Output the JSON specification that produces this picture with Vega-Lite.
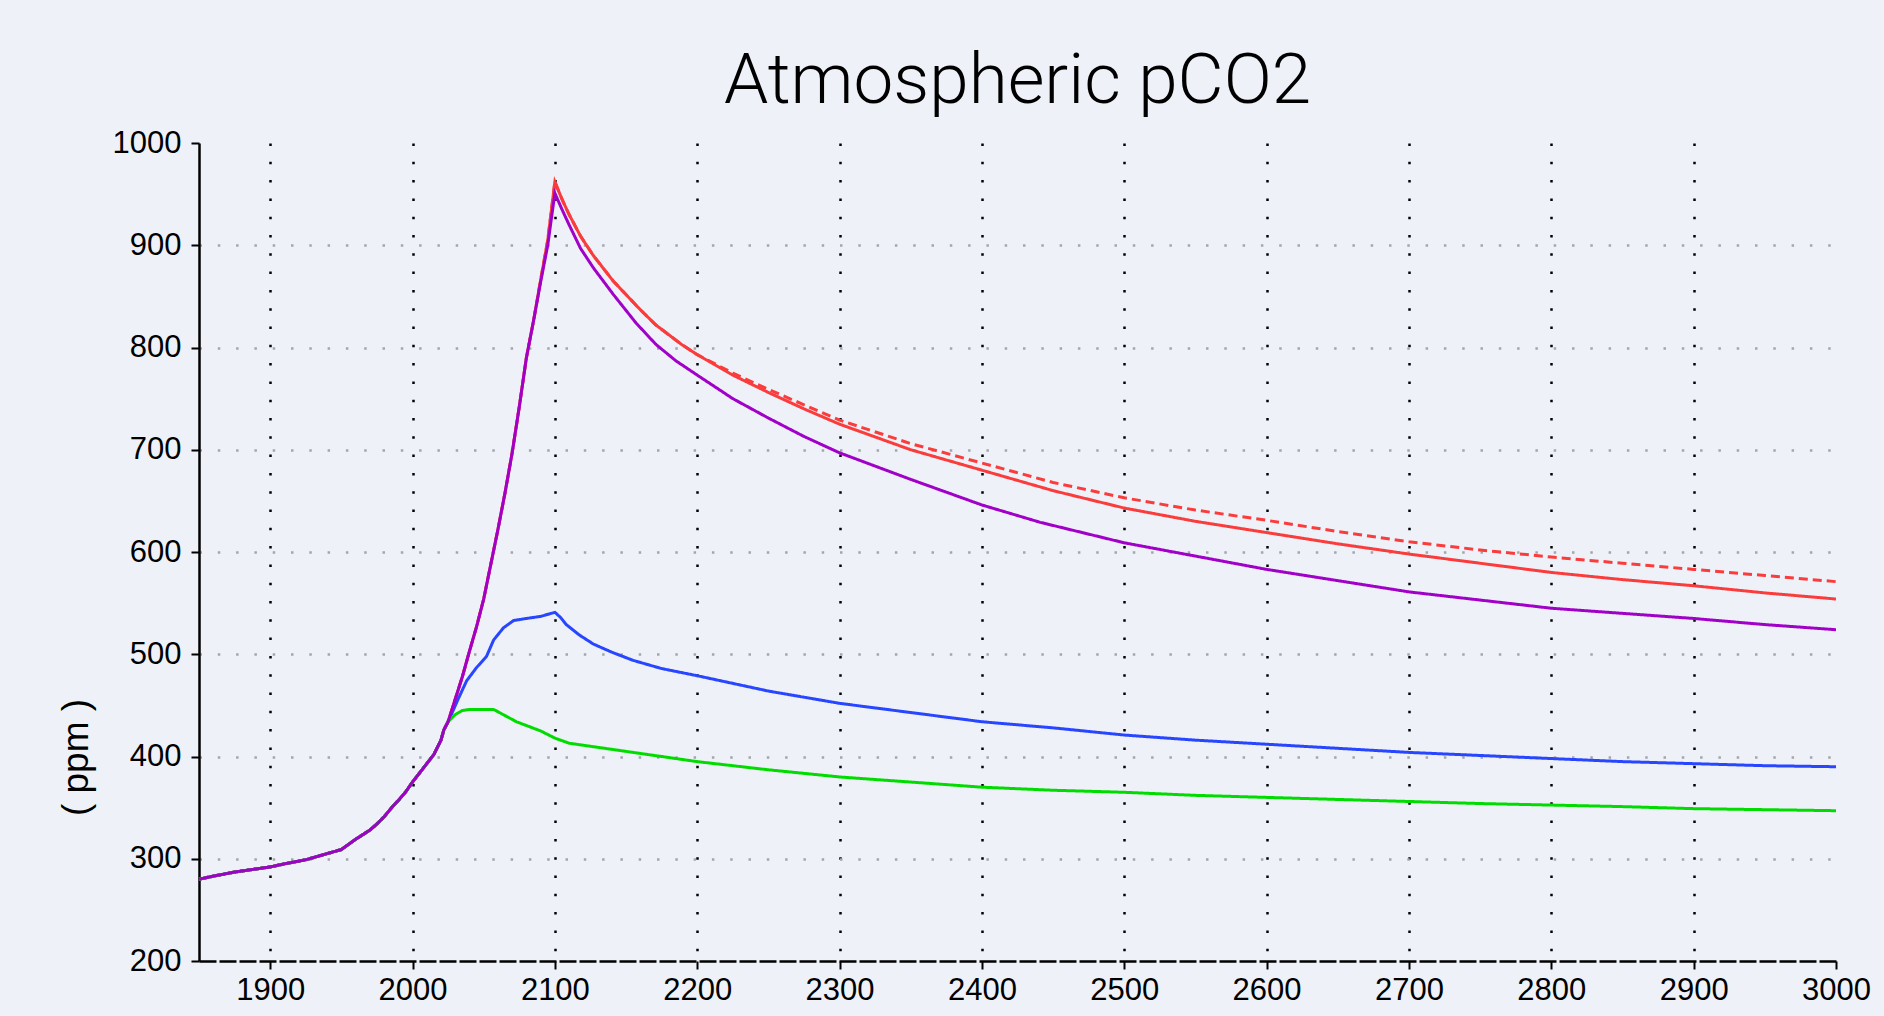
{
  "$schema": "https://vega.github.io/schema/vega-lite/v6.json",
  "autosize": {"type": "none"},
  "padding": {"left": 199, "top": 143, "right": 48, "bottom": 55},
  "width": 1637,
  "height": 818,
  "background": "#eef2f8",
  "title": {
    "text": "Atmospheric pCO2",
    "font": "Roboto",
    "fontWeight": 300,
    "fontSize": 71,
    "color": "black",
    "anchor": "middle",
    "baseline": "alphabetic",
    "offset": 35,
    "dy": 82
  },
  "config": {
    "view": {"stroke": null},
    "axis": {
      "labelFont": "Liberation Sans",
      "labelFontSize": 31,
      "labelColor": "black",
      "domainColor": "black",
      "domainWidth": 2.5,
      "tickColor": "black",
      "tickSize": 8,
      "tickWidth": 2
    }
  },
  "data": {
    "values": [
      {"series": "S2", "year": 1850, "value": 280}, {"series": "S2", "year": 1860, "value": 283}, {"series": "S2", "year": 1875, "value": 287}, {"series": "S2", "year": 1890, "value": 290}, {"series": "S2", "year": 1900, "value": 292}, {"series": "S2", "year": 1910, "value": 295}, {"series": "S2", "year": 1925, "value": 299}, {"series": "S2", "year": 1940, "value": 305}, {"series": "S2", "year": 1950, "value": 309}, {"series": "S2", "year": 1960, "value": 319}, {"series": "S2", "year": 1970, "value": 328}, {"series": "S2", "year": 1975, "value": 334}, {"series": "S2", "year": 1980, "value": 341}, {"series": "S2", "year": 1986, "value": 351}, {"series": "S2", "year": 1990, "value": 357}, {"series": "S2", "year": 1995, "value": 365}, {"series": "S2", "year": 2000, "value": 375}, {"series": "S2", "year": 2005, "value": 384}, {"series": "S2", "year": 2010, "value": 393}, {"series": "S2", "year": 2015, "value": 402}, {"series": "S2", "year": 2020, "value": 416},
      {"series": "S2", "year": 2022, "value": 426}, {"series": "S2", "year": 2025, "value": 434}, {"series": "S2", "year": 2030, "value": 456}, {"series": "S2", "year": 2035, "value": 478}, {"series": "S2", "year": 2040, "value": 503}, {"series": "S2", "year": 2045, "value": 527}, {"series": "S2", "year": 2050, "value": 554}, {"series": "S2", "year": 2055, "value": 588}, {"series": "S2", "year": 2060, "value": 622}, {"series": "S2", "year": 2065, "value": 658}, {"series": "S2", "year": 2070, "value": 697}, {"series": "S2", "year": 2075, "value": 742}, {"series": "S2", "year": 2080, "value": 790}, {"series": "S2", "year": 2085, "value": 826}, {"series": "S2", "year": 2090, "value": 866}, {"series": "S2", "year": 2095, "value": 905}, {"series": "S2", "year": 2100, "value": 962}, {"series": "S2", "year": 2105, "value": 945}, {"series": "S2", "year": 2110, "value": 930}, {"series": "S2", "year": 2118, "value": 909}, {"series": "S2", "year": 2127, "value": 890}, {"series": "S2", "year": 2141, "value": 865}, {"series": "S2", "year": 2160, "value": 837}, {"series": "S2", "year": 2171, "value": 822}, {"series": "S2", "year": 2189, "value": 803}, {"series": "S2", "year": 2200, "value": 793}, {"series": "S2", "year": 2225, "value": 775}, {"series": "S2", "year": 2250, "value": 759}, {"series": "S2", "year": 2275, "value": 744}, {"series": "S2", "year": 2300, "value": 729}, {"series": "S2", "year": 2350, "value": 706}, {"series": "S2", "year": 2400, "value": 687}, {"series": "S2", "year": 2450, "value": 668}, {"series": "S2", "year": 2500, "value": 653}, {"series": "S2", "year": 2550, "value": 641}, {"series": "S2", "year": 2600, "value": 631}, {"series": "S2", "year": 2650, "value": 620}, {"series": "S2", "year": 2700, "value": 610}, {"series": "S2", "year": 2750, "value": 602}, {"series": "S2", "year": 2800, "value": 595}, {"series": "S2", "year": 2850, "value": 589}, {"series": "S2", "year": 2900, "value": 583}, {"series": "S2", "year": 2950, "value": 577}, {"series": "S2", "year": 3000, "value": 571},

      {"series": "S1", "year": 1850, "value": 280}, {"series": "S1", "year": 1860, "value": 283}, {"series": "S1", "year": 1875, "value": 287}, {"series": "S1", "year": 1890, "value": 290}, {"series": "S1", "year": 1900, "value": 292}, {"series": "S1", "year": 1910, "value": 295}, {"series": "S1", "year": 1925, "value": 299}, {"series": "S1", "year": 1940, "value": 305}, {"series": "S1", "year": 1950, "value": 309}, {"series": "S1", "year": 1960, "value": 319}, {"series": "S1", "year": 1970, "value": 328}, {"series": "S1", "year": 1975, "value": 334}, {"series": "S1", "year": 1980, "value": 341}, {"series": "S1", "year": 1986, "value": 351}, {"series": "S1", "year": 1990, "value": 357}, {"series": "S1", "year": 1995, "value": 365}, {"series": "S1", "year": 2000, "value": 375}, {"series": "S1", "year": 2005, "value": 384}, {"series": "S1", "year": 2010, "value": 393}, {"series": "S1", "year": 2015, "value": 402}, {"series": "S1", "year": 2020, "value": 416},
      {"series": "S1", "year": 2022, "value": 426}, {"series": "S1", "year": 2025, "value": 434}, {"series": "S1", "year": 2030, "value": 456}, {"series": "S1", "year": 2035, "value": 478}, {"series": "S1", "year": 2040, "value": 503}, {"series": "S1", "year": 2045, "value": 527}, {"series": "S1", "year": 2050, "value": 554}, {"series": "S1", "year": 2055, "value": 588}, {"series": "S1", "year": 2060, "value": 622}, {"series": "S1", "year": 2065, "value": 658}, {"series": "S1", "year": 2070, "value": 697}, {"series": "S1", "year": 2075, "value": 742}, {"series": "S1", "year": 2080, "value": 790}, {"series": "S1", "year": 2085, "value": 826}, {"series": "S1", "year": 2090, "value": 866}, {"series": "S1", "year": 2095, "value": 905}, {"series": "S1", "year": 2100, "value": 962}, {"series": "S1", "year": 2105, "value": 945}, {"series": "S1", "year": 2110, "value": 930}, {"series": "S1", "year": 2118, "value": 909}, {"series": "S1", "year": 2127, "value": 890}, {"series": "S1", "year": 2141, "value": 865}, {"series": "S1", "year": 2160, "value": 837}, {"series": "S1", "year": 2171, "value": 822}, {"series": "S1", "year": 2189, "value": 803}, {"series": "S1", "year": 2200, "value": 793}, {"series": "S1", "year": 2225, "value": 773}, {"series": "S1", "year": 2250, "value": 756}, {"series": "S1", "year": 2275, "value": 740}, {"series": "S1", "year": 2300, "value": 725}, {"series": "S1", "year": 2350, "value": 700}, {"series": "S1", "year": 2400, "value": 680}, {"series": "S1", "year": 2450, "value": 660}, {"series": "S1", "year": 2500, "value": 643}, {"series": "S1", "year": 2550, "value": 630}, {"series": "S1", "year": 2600, "value": 619}, {"series": "S1", "year": 2650, "value": 608}, {"series": "S1", "year": 2700, "value": 598}, {"series": "S1", "year": 2750, "value": 589}, {"series": "S1", "year": 2800, "value": 580}, {"series": "S1", "year": 2850, "value": 573}, {"series": "S1", "year": 2900, "value": 567}, {"series": "S1", "year": 2950, "value": 560}, {"series": "S1", "year": 3000, "value": 554},

      {"series": "S4", "year": 1850, "value": 280}, {"series": "S4", "year": 1860, "value": 283}, {"series": "S4", "year": 1875, "value": 287}, {"series": "S4", "year": 1890, "value": 290}, {"series": "S4", "year": 1900, "value": 292}, {"series": "S4", "year": 1910, "value": 295}, {"series": "S4", "year": 1925, "value": 299}, {"series": "S4", "year": 1940, "value": 305}, {"series": "S4", "year": 1950, "value": 309}, {"series": "S4", "year": 1960, "value": 319}, {"series": "S4", "year": 1970, "value": 328}, {"series": "S4", "year": 1975, "value": 334}, {"series": "S4", "year": 1980, "value": 341}, {"series": "S4", "year": 1986, "value": 351}, {"series": "S4", "year": 1990, "value": 357}, {"series": "S4", "year": 1995, "value": 365}, {"series": "S4", "year": 2000, "value": 375}, {"series": "S4", "year": 2005, "value": 384}, {"series": "S4", "year": 2010, "value": 393}, {"series": "S4", "year": 2015, "value": 402}, {"series": "S4", "year": 2020, "value": 416},
      {"series": "S4", "year": 2022, "value": 426}, {"series": "S4", "year": 2026, "value": 437}, {"series": "S4", "year": 2032, "value": 456}, {"series": "S4", "year": 2038, "value": 474}, {"series": "S4", "year": 2045, "value": 487}, {"series": "S4", "year": 2052, "value": 498}, {"series": "S4", "year": 2057, "value": 514}, {"series": "S4", "year": 2064, "value": 526}, {"series": "S4", "year": 2071, "value": 533}, {"series": "S4", "year": 2080, "value": 535}, {"series": "S4", "year": 2090, "value": 537}, {"series": "S4", "year": 2100, "value": 541}, {"series": "S4", "year": 2104, "value": 536}, {"series": "S4", "year": 2108, "value": 529}, {"series": "S4", "year": 2117, "value": 519}, {"series": "S4", "year": 2127, "value": 510}, {"series": "S4", "year": 2140, "value": 502}, {"series": "S4", "year": 2155, "value": 494}, {"series": "S4", "year": 2175, "value": 486}, {"series": "S4", "year": 2200, "value": 479}, {"series": "S4", "year": 2250, "value": 464}, {"series": "S4", "year": 2300, "value": 452}, {"series": "S4", "year": 2350, "value": 443}, {"series": "S4", "year": 2400, "value": 434}, {"series": "S4", "year": 2450, "value": 428}, {"series": "S4", "year": 2500, "value": 421}, {"series": "S4", "year": 2550, "value": 416}, {"series": "S4", "year": 2600, "value": 412}, {"series": "S4", "year": 2650, "value": 408}, {"series": "S4", "year": 2700, "value": 404}, {"series": "S4", "year": 2750, "value": 401}, {"series": "S4", "year": 2800, "value": 398}, {"series": "S4", "year": 2850, "value": 395}, {"series": "S4", "year": 2900, "value": 393}, {"series": "S4", "year": 2950, "value": 391}, {"series": "S4", "year": 3000, "value": 390},

      {"series": "S5", "year": 1850, "value": 280}, {"series": "S5", "year": 1860, "value": 283}, {"series": "S5", "year": 1875, "value": 287}, {"series": "S5", "year": 1890, "value": 290}, {"series": "S5", "year": 1900, "value": 292}, {"series": "S5", "year": 1910, "value": 295}, {"series": "S5", "year": 1925, "value": 299}, {"series": "S5", "year": 1940, "value": 305}, {"series": "S5", "year": 1950, "value": 309}, {"series": "S5", "year": 1960, "value": 319}, {"series": "S5", "year": 1970, "value": 328}, {"series": "S5", "year": 1975, "value": 334}, {"series": "S5", "year": 1980, "value": 341}, {"series": "S5", "year": 1986, "value": 351}, {"series": "S5", "year": 1990, "value": 357}, {"series": "S5", "year": 1995, "value": 365}, {"series": "S5", "year": 2000, "value": 375}, {"series": "S5", "year": 2005, "value": 384}, {"series": "S5", "year": 2010, "value": 393}, {"series": "S5", "year": 2015, "value": 402}, {"series": "S5", "year": 2020, "value": 416},
      {"series": "S5", "year": 2022, "value": 426}, {"series": "S5", "year": 2025, "value": 434}, {"series": "S5", "year": 2030, "value": 441}, {"series": "S5", "year": 2035, "value": 445}, {"series": "S5", "year": 2040, "value": 446}, {"series": "S5", "year": 2057, "value": 446}, {"series": "S5", "year": 2065, "value": 440}, {"series": "S5", "year": 2073, "value": 434}, {"series": "S5", "year": 2090, "value": 425}, {"series": "S5", "year": 2100, "value": 418}, {"series": "S5", "year": 2110, "value": 413}, {"series": "S5", "year": 2125, "value": 410}, {"series": "S5", "year": 2150, "value": 405}, {"series": "S5", "year": 2175, "value": 400}, {"series": "S5", "year": 2200, "value": 395}, {"series": "S5", "year": 2250, "value": 387}, {"series": "S5", "year": 2300, "value": 380}, {"series": "S5", "year": 2350, "value": 375}, {"series": "S5", "year": 2400, "value": 370}, {"series": "S5", "year": 2450, "value": 367}, {"series": "S5", "year": 2500, "value": 365}, {"series": "S5", "year": 2550, "value": 362}, {"series": "S5", "year": 2600, "value": 360}, {"series": "S5", "year": 2650, "value": 358}, {"series": "S5", "year": 2700, "value": 356}, {"series": "S5", "year": 2750, "value": 354}, {"series": "S5", "year": 2800, "value": 352.5}, {"series": "S5", "year": 2850, "value": 351}, {"series": "S5", "year": 2900, "value": 349}, {"series": "S5", "year": 2950, "value": 348}, {"series": "S5", "year": 3000, "value": 347},

      {"series": "S3", "year": 1850, "value": 280}, {"series": "S3", "year": 1860, "value": 283}, {"series": "S3", "year": 1875, "value": 287}, {"series": "S3", "year": 1890, "value": 290}, {"series": "S3", "year": 1900, "value": 292}, {"series": "S3", "year": 1910, "value": 295}, {"series": "S3", "year": 1925, "value": 299}, {"series": "S3", "year": 1940, "value": 305}, {"series": "S3", "year": 1950, "value": 309}, {"series": "S3", "year": 1960, "value": 319}, {"series": "S3", "year": 1970, "value": 328}, {"series": "S3", "year": 1975, "value": 334}, {"series": "S3", "year": 1980, "value": 341}, {"series": "S3", "year": 1986, "value": 351}, {"series": "S3", "year": 1990, "value": 357}, {"series": "S3", "year": 1995, "value": 365}, {"series": "S3", "year": 2000, "value": 375}, {"series": "S3", "year": 2005, "value": 384}, {"series": "S3", "year": 2010, "value": 393}, {"series": "S3", "year": 2015, "value": 402}, {"series": "S3", "year": 2020, "value": 416},
      {"series": "S3", "year": 2022, "value": 426}, {"series": "S3", "year": 2025, "value": 434}, {"series": "S3", "year": 2030, "value": 456}, {"series": "S3", "year": 2035, "value": 478}, {"series": "S3", "year": 2040, "value": 503}, {"series": "S3", "year": 2045, "value": 527}, {"series": "S3", "year": 2050, "value": 554}, {"series": "S3", "year": 2055, "value": 588}, {"series": "S3", "year": 2060, "value": 622}, {"series": "S3", "year": 2065, "value": 658}, {"series": "S3", "year": 2070, "value": 697}, {"series": "S3", "year": 2075, "value": 742}, {"series": "S3", "year": 2080, "value": 790}, {"series": "S3", "year": 2085, "value": 826}, {"series": "S3", "year": 2090, "value": 864}, {"series": "S3", "year": 2095, "value": 900}, {"series": "S3", "year": 2100, "value": 951}, {"series": "S3", "year": 2105, "value": 935}, {"series": "S3", "year": 2110, "value": 920}, {"series": "S3", "year": 2118, "value": 897}, {"series": "S3", "year": 2127, "value": 878}, {"series": "S3", "year": 2141, "value": 852}, {"series": "S3", "year": 2157, "value": 824}, {"series": "S3", "year": 2171, "value": 803}, {"series": "S3", "year": 2185, "value": 787}, {"series": "S3", "year": 2200, "value": 773}, {"series": "S3", "year": 2225, "value": 750}, {"series": "S3", "year": 2250, "value": 731}, {"series": "S3", "year": 2275, "value": 713}, {"series": "S3", "year": 2300, "value": 697}, {"series": "S3", "year": 2350, "value": 671}, {"series": "S3", "year": 2400, "value": 646}, {"series": "S3", "year": 2441, "value": 629}, {"series": "S3", "year": 2500, "value": 609}, {"series": "S3", "year": 2550, "value": 596}, {"series": "S3", "year": 2600, "value": 583}, {"series": "S3", "year": 2650, "value": 572}, {"series": "S3", "year": 2700, "value": 561}, {"series": "S3", "year": 2750, "value": 553}, {"series": "S3", "year": 2800, "value": 545}, {"series": "S3", "year": 2850, "value": 540}, {"series": "S3", "year": 2900, "value": 535}, {"series": "S3", "year": 2950, "value": 529}, {"series": "S3", "year": 3000, "value": 524}
    ]
  },
  "mark": {"type": "line", "strokeWidth": 3, "clip": true},
  "encoding": {
    "x": {
      "field": "year",
      "type": "quantitative",
      "scale": {"domain": [1850, 3000], "nice": false, "zero": false},
      "axis": {
        "title": null,
        "values": [1900, 2000, 2100, 2200, 2300, 2400, 2500, 2600, 2700, 2800, 2900, 3000],
        "format": "d",
        "labelPadding": 6,
        "labelFlush": false,
        "labelOverlap": false,
        "domainDash": [17, 3],
        "grid": true,
        "gridColor": "black",
        "gridWidth": 2.5,
        "gridDash": [2.5, 15.8],
        "gridOpacity": {"condition": {"test": "datum.value == 3000", "value": 0}, "value": 1}
      }
    },
    "y": {
      "field": "value",
      "type": "quantitative",
      "scale": {"domain": [200, 1000], "nice": false, "zero": false},
      "axis": {
        "title": "( ppm )",
        "titleFont": "Liberation Sans",
        "titleFontSize": 37,
        "titleFontWeight": "normal",
        "titleColor": "black",
        "titleAngle": 270,
        "titleAlign": "center",
        "titleBaseline": "alphabetic",
        "titleX": -112,
        "titleY": 614,
        "values": [200, 300, 400, 500, 600, 700, 800, 900, 1000],
        "format": "d",
        "labelPadding": 10,
        "labelOverlap": false,
        "grid": true,
        "gridColor": "#a3a6aa",
        "gridWidth": 2.5,
        "gridDash": [2.5, 15.8],
        "gridOpacity": {"condition": {"test": "datum.value == 200 || datum.value == 1000", "value": 0}, "value": 1}
      }
    },
    "color": {
      "field": "series",
      "type": "nominal",
      "scale": {"domain": ["S1", "S2", "S3", "S4", "S5"], "range": ["#fa3c3c", "#fa3c3c", "#a000c8", "#2846ff", "#00dc00"]},
      "legend": null
    },
    "strokeDash": {
      "field": "series",
      "type": "nominal",
      "scale": {"domain": ["S1", "S2", "S3", "S4", "S5"], "range": [[1, 0], [9, 5], [1, 0], [1, 0], [1, 0]]},
      "legend": null
    }
  }
}
